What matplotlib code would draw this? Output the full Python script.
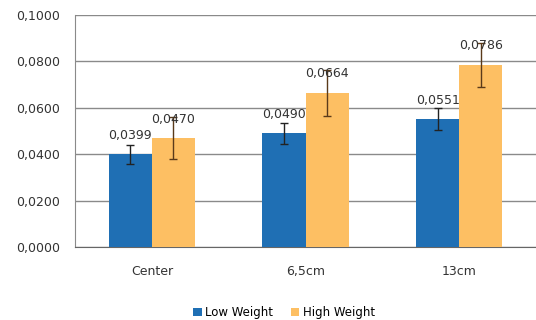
import numpy as np
import matplotlib
matplotlib.use('Agg')
import matplotlib.pyplot as plt
from matplotlib.ticker import FuncFormatter

categories = ['Center', '6,5cm', '13cm']
low_weight = [0.0399, 0.0490, 0.0551]
high_weight = [0.0470, 0.0664, 0.0786]
low_err = [0.0040, 0.0045, 0.0047]
high_err = [0.0090, 0.0100, 0.0095]

blue = '#1f6fb4'
orange = '#fdbf63'

plt.rcParams['font.family'] = ['DejaVu Sans']

fig = plt.figure(figsize=(5.36, 3.2), dpi=100)
ax = fig.add_axes([0.14, 0.228, 0.86, 0.725])

x = np.arange(len(categories))
w = 0.28

ax.bar(x - w / 2, low_weight, w, color=blue, label='Low Weight', zorder=3,
       yerr=low_err, error_kw=dict(ecolor='#222222', elinewidth=1, capsize=3, capthick=1))
ax.bar(x + w / 2, high_weight, w, color=orange, label='High Weight', zorder=3,
       yerr=high_err, error_kw=dict(ecolor='#5a3a1a', elinewidth=1, capsize=3, capthick=1))

def comma(v):
    return ('%.4f' % v).replace('.', ',')

for i in range(len(categories)):
    ax.annotate(comma(low_weight[i]), (x[i] - w / 2, low_weight[i]), xytext=(0, 9),
                textcoords='offset points', ha='center', va='bottom', fontsize=9,
                color='#333333', zorder=5)
    ax.annotate(comma(high_weight[i]), (x[i] + w / 2, high_weight[i]), xytext=(0, 9),
                textcoords='offset points', ha='center', va='bottom', fontsize=9,
                color='#333333', zorder=5)

ax.set_xlim(-0.5, 2.5)
ax.set_ylim(0, 0.1)
ax.set_yticks(np.arange(0, 0.1001, 0.02))
ax.yaxis.set_major_formatter(FuncFormatter(lambda v, p: comma(v)))
ax.set_xticks(x)
ax.set_xticklabels(categories)
ax.tick_params(axis='both', length=0, labelsize=9, colors='#333333')
ax.tick_params(axis='y', pad=11)
ax.tick_params(axis='x', pad=13)

ax.yaxis.grid(True, color='#8a8a8a', linewidth=1, zorder=0)
ax.set_axisbelow(True)
for s in ['top', 'right']:
    ax.spines[s].set_visible(False)
ax.spines['left'].set_color('#8a8a8a')
ax.spines['bottom'].set_color('#666666')

fig.legend(loc='lower center', bbox_to_anchor=(0.53, -0.03), ncol=2, frameon=False,
           fontsize=8.5, handlelength=0.7, handleheight=0.7, handletextpad=0.3,
           columnspacing=1.5)

fig.savefig('out.png', dpi=100)
